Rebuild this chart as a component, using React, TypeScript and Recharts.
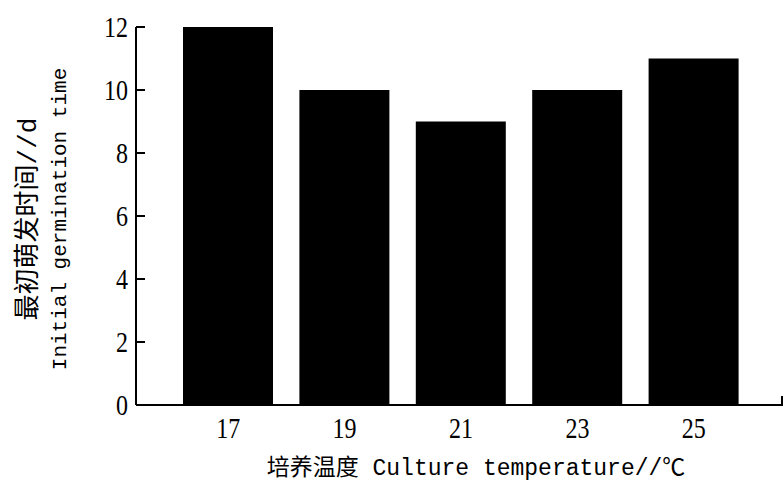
import React from 'react';
import { BarChart, Bar, XAxis, YAxis, usePlotArea } from 'recharts';

const temperatures = ['17', '19', '21', '23', '25'];
const germinationDays = [12, 10, 9, 10, 11];
const yTicks = [0, 2, 4, 6, 8, 10, 12];

const data = temperatures.map((t, i) => ({ name: t, days: germinationDays[i] }));

const NUM_FONT = '"Liberation Serif", "Times New Roman", serif';
const LABEL_FONT = '"Liberation Mono", "Noto Sans CJK SC", monospace';

const YTick = (props: any) => {
  const { x, y, payload } = props;
  return (
    <g>
      <line x1={x} y1={y} x2={x + 9} y2={y} stroke="#000" strokeWidth={2} />
      <text
        transform={`translate(${x - 8},${y}) scale(0.8,1)`}
        textAnchor="end"
        dominantBaseline="central"
        fontFamily={NUM_FONT}
        fontSize={30}
        fill="#000"
      >
        {payload.value}
      </text>
    </g>
  );
};

const XTick = (props: any) => {
  const { x, y, payload } = props;
  return (
    <text
      transform={`translate(${x},${y + 31}) scale(0.8,1)`}
      textAnchor="middle"
      fontFamily={NUM_FONT}
      fontSize={30}
      fill="#000"
    >
      {payload.value}
    </text>
  );
};

// small upward tick at the right end of the x axis
const EndTick = () => {
  const area = usePlotArea();
  if (!area) return null;
  const xr = area.x + area.width - 1;
  const yb = area.y + area.height;
  return <line x1={xr} y1={yb} x2={xr} y2={yb - 9} stroke="#000" strokeWidth={2} />;
};

export default function App() {
  return (
    <div style={{ position: 'fixed', left: 0, top: 0, width: 784, height: 481, background: '#fff' }}>
      <BarChart width={784} height={481} data={data} margin={{ top: 27, right: 1, bottom: 0, left: 0 }}>
        <XAxis
          dataKey="name"
          height={76}
          padding={{ left: 34, right: 31 }}
          axisLine={{ stroke: '#000', strokeWidth: 2 }}
          tickLine={false}
          tickSize={0}
          tick={<XTick />}
          label={{
            content: () => (
              <text x={476} y={475} textAnchor="middle" fontFamily={LABEL_FONT} fontSize={23} fill="#000">
                培养温度 Culture temperature//℃
              </text>
            ),
          }}
        />
        <YAxis
          width={136}
          domain={[0, 12]}
          ticks={yTicks}
          axisLine={{ stroke: '#000', strokeWidth: 2 }}
          tickLine={false}
          tickSize={0}
          tickMargin={0}
          tick={<YTick />}
          label={{
            content: () => (
              <g fontFamily={LABEL_FONT} fill="#000">
                <text
                  transform="translate(29,219) rotate(-90)"
                  textAnchor="middle"
                  dominantBaseline="central"
                  fontSize={26}
                >
                  最初萌发时间//d
                </text>
                <text
                  transform="translate(60,219) rotate(-90)"
                  textAnchor="middle"
                  dominantBaseline="central"
                  fontSize={21}
                >
                  Initial germination time
                </text>
              </g>
            ),
          }}
        />
        <Bar dataKey="days" fill="#000" barSize={90} isAnimationActive={false} />
        <EndTick />
      </BarChart>
    </div>
  );
}
